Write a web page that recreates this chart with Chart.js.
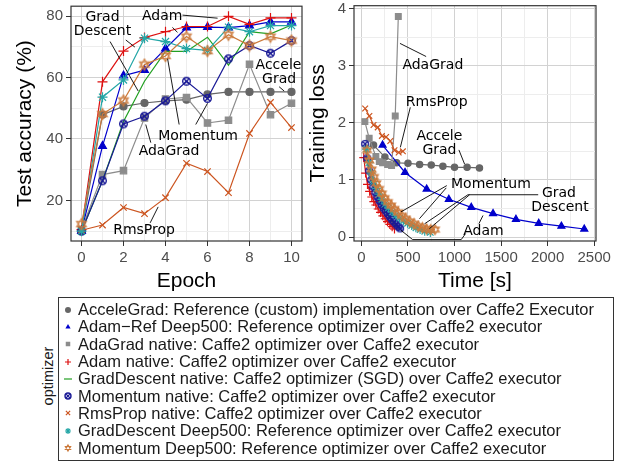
<!DOCTYPE html>
<html>
<head>
<meta charset="utf-8">
<script src="https://cdn.jsdelivr.net/npm/chart.js@4.4.0/dist/chart.umd.min.js"></script>
<style>
    body { margin: 0; background: #fff; }
    #page { position: relative; width: 624px; height: 462px; overflow: hidden; font-family: "Liberation Sans", Arial, sans-serif; }
    #accChart { position: absolute; left: 0; top: 0; }
    #lossChart { position: absolute; left: 300px; top: 0; }
    #legendTitle { position: absolute; left: 48px; top: 376px; transform: translate(-50%, -50%) rotate(-90deg); font-size: 14.5px; color: #1a1a1a; white-space: nowrap; }
    #legend { position: absolute; left: 58px; top: 297px; width: 556px; height: 164px; box-sizing: border-box; border: 1px solid #333; padding-top: 3px; }
    .item { height: 17.3px; font-size: 16.5px; color: #1a1a1a; white-space: nowrap; display: flex; align-items: center; }
    .item canvas { margin-left: 4px; margin-right: 5px; }
</style>
</head>
<body>
<div id="page">
    <canvas id="accChart" width="312" height="296"></canvas>
    <canvas id="lossChart" width="324" height="296"></canvas>
    <div id="legendTitle">optimizer</div>
    <div id="legend"></div>
</div>
<script>
// 축 눈금
const epochs = [0, 1, 2, 3, 4, 5, 6, 7, 8, 9, 10];
const epochTicks = [0, 2, 4, 6, 8, 10];
const epochMinorTicks = [1, 3, 5, 7, 9];
const accTicks = [20, 40, 60, 80];
const accMinorTicks = [10, 30, 50, 70];
const timeTicks = [0, 500, 1000, 1500, 2000, 2500];
const timeMinorTicks = [250, 750, 1250, 1750, 2250];
const lossTicks = [0, 1, 2, 3, 4];
const lossMinorTicks = [0.5, 1.5, 2.5, 3.5];

// 옵티마이저 이름 (범례 순서)
const legendLabels = [
    'AcceleGrad: Reference (custom) implementation over Caffe2 Executor',
    'Adam\u2212Ref Deep500: Reference optimizer over Caffe2 executor',
    'AdaGrad native: Caffe2 optimizer over Caffe2 executor',
    'Adam native: Caffe2 optimizer over Caffe2 executor',
    'GradDescent native: Caffe2 optimizer (SGD) over Caffe2 executor',
    'Momentum native: Caffe2 optimizer over Caffe2 executor',
    'RmsProp native: Caffe2 optimizer over Caffe2 executor',
    'GradDescent Deep500: Reference optimizer over Caffe2 executor',
    'Momentum Deep500: Reference optimizer over Caffe2 executor'
];

// 테스트 정확도 (epoch 0..10)
const accAcceleGrad = [10, 47.9, 50.6, 51.7, 52.4, 52.8, 54.5, 55.3, 55.3, 55.3, 55.3];
const accAdamRef = [10, 37.7, 60.6, 62.4, 69.4, 76.2, 76.4, 76.2, 76.9, 78.1, 78.1];
const accAdaGrad = [10.5, 28.4, 29.7, 46.8, 53.0, 53.5, 45.2, 46.1, 64.3, 47.9, 51.6];
const accAdam = [10.5, 58.6, 68.6, 73.0, 74.9, 76.6, 76.6, 79.9, 77.3, 79.4, 79.4];
const accGradDescent = [10, 26.4, 45.7, 58.8, 68.5, 68.5, 73.1, 64.0, 74.9, 74.2, 77.1];
const accMomentum = [10, 26.4, 44.9, 47.4, 52.4, 58.8, 53.2, 66.1, 70.4, 67.9, 72.0];
const accRmsProp = [10.3, 12.0, 17.7, 15.7, 20.9, 32.1, 29.4, 22.5, 41.8, 51.9, 43.7];
const accGradDescentD5 = [10, 53.6, 59.2, 72.8, 71.7, 69.4, 68.8, 76.4, 74.9, 76.9, 76.9];
const accMomentumD5 = [12.3, 48.1, 52.5, 64.2, 67.0, 73.3, 68.6, 73.9, 70.4, 73.3, 72.0];

// 학습 손실 (시간 [s], 값)
const timeAcceleGrad = [130, 252, 378, 500, 625, 750, 875, 1000, 1135, 1268];
const lossAcceleGrad = [1.61, 1.40, 1.30, 1.29, 1.27, 1.26, 1.24, 1.22, 1.22, 1.21];
const timeAdamRef = [227, 468, 701, 939, 1180, 1414, 1660, 1905, 2148, 2394];
const lossAdamRef = [1.61, 1.13, 0.84, 0.66, 0.52, 0.41, 0.31, 0.24, 0.19, 0.14];
const timeAdaGrad = [37, 83, 155, 191, 227, 281, 324, 363, 396];
const lossAdaGrad = [2.02, 1.73, 1.41, 1.32, 1.30, 1.27, 1.25, 2.12, 3.86];
const timeAdam = [25, 45, 65, 88, 111, 133, 155, 180, 205, 230, 255, 280, 305, 330, 355];
const lossAdam = [1.39, 1.12, 0.92, 0.80, 0.70, 0.62, 0.56, 0.49, 0.43, 0.37, 0.32, 0.27, 0.22, 0.18, 0.14];
const timeGradDescent = [45, 70, 95, 120, 150, 180, 210, 240, 270, 300, 330, 360, 390, 420];
const lossGradDescent = [1.55, 1.25, 1.05, 0.90, 0.76, 0.65, 0.56, 0.48, 0.41, 0.34, 0.28, 0.22, 0.17, 0.12];
const timeMomentum = [40, 62, 83, 105, 128, 150, 172, 195, 218, 240, 262, 285, 308, 330, 352, 375, 398, 415];
const lossMomentum = [1.63, 1.38, 1.16, 1.00, 0.88, 0.78, 0.70, 0.63, 0.56, 0.50, 0.45, 0.40, 0.35, 0.30, 0.26, 0.22, 0.18, 0.15];
const timeRmsProp = [40, 85, 130, 175, 220, 265, 310, 355, 400, 445];
const lossRmsProp = [2.25, 2.12, 1.96, 1.92, 1.77, 1.75, 1.68, 1.52, 1.48, 1.50];
const timeGradDescentD5 = [55, 80, 105, 130, 160, 190, 220, 255, 290, 330, 370, 410, 450, 495, 540, 585, 630, 680, 740];
const lossGradDescentD5 = [1.54, 1.30, 1.12, 0.97, 0.85, 0.75, 0.66, 0.58, 0.51, 0.44, 0.38, 0.33, 0.28, 0.24, 0.20, 0.16, 0.13, 0.10, 0.08];
const timeMomentumD5 = [60, 85, 110, 135, 160, 190, 220, 250, 285, 320, 355, 395, 435, 475, 520, 565, 610, 655, 700, 745, 790];
const lossMomentumD5 = [1.52, 1.34, 1.18, 1.05, 0.94, 0.84, 0.76, 0.68, 0.61, 0.55, 0.49, 0.43, 0.37, 0.32, 0.27, 0.23, 0.19, 0.16, 0.14, 0.13, 0.13];

// 주석 (데이터 좌표)
const accNoteTexts = [
    ['Grad', 1.0, 79.5], ['Descent', 1.0, 74.9], ['Adam', 3.84, 79.9],
    ['Accele', 9.38, 64.0], ['Grad', 9.41, 59.5], ['Momentum', 5.55, 40.9],
    ['AdaGrad', 4.17, 35.9], ['RmsProp', 2.98, 10.1]
];
const accNoteLines = [
    [1.36, 71.7, 2.70, 55.6], [2.11, 72.2, 2.54, 69.9], [4.81, 80.3, 6.48, 79.3],
    [4.33, 76.3, 4.57, 74.7], [9.41, 57.0, 9.65, 55.6], [4.65, 44.7, 4.10, 66.1],
    [5.44, 44.7, 6.0, 51.6], [3.30, 38.8, 3.06, 44.7], [3.27, 12.7, 3.65, 17.9]
];
const lossNoteTexts = [
    ['AdaGrad', 767, 3.0], ['RmsProp', 808, 2.36], ['Accele', 838, 1.77], ['Grad', 838, 1.525],
    ['Momentum', 1391, 0.93], ['Grad', 2122, 0.765], ['Descent', 2133, 0.52], ['Adam', 1310, 0.104]
];
const lossNoteLines = [
    [695, 3.16, 414, 3.39], [525, 2.27, 418, 1.57], [1047, 1.525, 1108, 1.277],
    [917, 0.90, 425, 0.44], [911, 0.86, 623, 0.32],
    [1899, 0.74, 1144, 0.74, 677, 0.23], [1162, 0.74, 730, 0.146],
    [1262, 0.233, 1306, 0.377], [1119, 0.06, 1072, -0.045, 550, -0.045, 425, 0.117]
];

const FONT = '"Liberation Sans", Arial, sans-serif';
const colors = ['#666666', '#0000cc', '#8c8c8c', '#dd1111', '#22a022', '#1a1a96', '#cc5520', '#23a6a6', '#cc7a3c'];
const shapes = ['circle', 'triangle', 'rect', 'cross', 'line', 'circleCross', 'crossRot', 'star', 'david'];

// 마커 그리기
function drawMarker(ctx, kind, x, y, r, color) {
    ctx.save();
    ctx.strokeStyle = color;
    ctx.fillStyle = color;
    ctx.lineWidth = 1.2;
    ctx.beginPath();
    if (kind === 'circle') {
        ctx.arc(x, y, r, 0, Math.PI * 2);
        ctx.fill();
    } else if (kind === 'triangle') {
        ctx.moveTo(x, y - r);
        ctx.lineTo(x + r * 0.87, y + r * 0.5);
        ctx.lineTo(x - r * 0.87, y + r * 0.5);
        ctx.closePath();
        ctx.fill();
    } else if (kind === 'rect') {
        const s = r * 0.75;
        ctx.fillRect(x - s, y - s, s * 2, s * 2);
    } else if (kind === 'line') {
        ctx.moveTo(x - r - 1, y);
        ctx.lineTo(x + r + 1, y);
        ctx.stroke();
    } else if (kind === 'circleCross') {
        ctx.lineWidth = 1.4;
        ctx.arc(x, y, r, 0, Math.PI * 2);
        const d = r * 0.71;
        ctx.moveTo(x - d, y - d); ctx.lineTo(x + d, y + d);
        ctx.moveTo(x + d, y - d); ctx.lineTo(x - d, y + d);
        ctx.stroke();
    } else if (kind === 'david') {
        ctx.moveTo(x, y - r); ctx.lineTo(x + r * 0.87, y + r * 0.5); ctx.lineTo(x - r * 0.87, y + r * 0.5); ctx.closePath();
        ctx.moveTo(x, y + r); ctx.lineTo(x + r * 0.87, y - r * 0.5); ctx.lineTo(x - r * 0.87, y - r * 0.5); ctx.closePath();
        ctx.stroke();
    } else {
        const d = r * 0.71;
        if (kind === 'cross' || kind === 'star') {
            ctx.moveTo(x - r, y); ctx.lineTo(x + r, y);
            ctx.moveTo(x, y - r); ctx.lineTo(x, y + r);
        }
        if (kind === 'crossRot' || kind === 'star') {
            ctx.moveTo(x - d, y - d); ctx.lineTo(x + d, y + d);
            ctx.moveTo(x + d, y - d); ctx.lineTo(x - d, y + d);
        }
        ctx.stroke();
    }
    ctx.restore();
}

function markerImage(kind, r, color) {
    const c = document.createElement('canvas');
    const size = Math.ceil(r * 2 + 3);
    c.width = size;
    c.height = size;
    drawMarker(c.getContext('2d'), kind, size / 2, size / 2, r, color);
    return c;
}

function buildDatasets(xsList, ysList, scale) {
    return ysList.map((ys, i) => {
        const xs = xsList[i];
        const kind = shapes[i];
        let style = kind;
        let radius = 4.5 * scale;
        if (kind === 'circle') radius = 3.5 * scale;
        if (kind === 'cross' || kind === 'star') radius = 5 * scale;
        if (kind === 'circleCross') style = markerImage(kind, 3.8 * scale, colors[i]);
        if (kind === 'david') style = markerImage(kind, 5.5 * scale, colors[i]);
        return {
            label: legendLabels[i],
            data: ys.map((v, j) => ({ x: xs[j], y: v })),
            borderColor: colors[i],
            backgroundColor: colors[i],
            borderWidth: 1.2,
            pointStyle: style,
            pointRadius: kind === 'line' ? 0 : radius,
            pointBorderWidth: 1.2,
            pointBackgroundColor: colors[i],
            pointBorderColor: colors[i],
            tension: 0,
            order: ysList.length - i
        };
    });
}

function makeScale(min, max, major, minor, title, axisSize, titlePad) {
    const all = major.concat(minor).sort((a, b) => a - b);
    const isMajor = v => major.includes(v);
    return {
        type: 'linear',
        min: min,
        max: max,
        afterBuildTicks: s => { s.ticks = all.map(v => ({ value: v })); },
        afterFit: s => {
            if (s.isHorizontal()) s.height = axisSize; else s.width = axisSize;
            s.paddingTop = 0; s.paddingBottom = 0; s.paddingLeft = 0; s.paddingRight = 0;
        },
        ticks: {
            autoSkip: false,
            maxRotation: 0,
            color: '#4d4d4d',
            padding: 3,
            font: { family: FONT, size: 15 },
            callback: v => isMajor(v) ? String(v) : ''
        },
        grid: {
            color: c => isMajor(c.tick.value) ? '#d2d2d2' : '#ededed',
            tickLength: 5,
            tickColor: c => isMajor(c.tick.value) ? '#333' : 'rgba(0,0,0,0)'
        },
        border: { display: false },
        title: {
            display: true,
            text: title,
            color: '#000',
            font: { family: FONT, size: 21 },
            padding: titlePad
        }
    };
}

// 패널 테두리
const panelBorder = {
    id: 'panelBorder',
    afterDraw(chart) {
        const { ctx, chartArea: a } = chart;
        ctx.save();
        ctx.strokeStyle = '#333';
        ctx.lineWidth = 1.2;
        ctx.strokeRect(a.left, a.top, a.right - a.left, a.bottom - a.top);
        ctx.restore();
    }
};

// 라벨과 지시선
const notes = {
    id: 'notes',
    afterDatasetsDraw(chart, args, opts) {
        const { ctx, scales: { x, y } } = chart;
        ctx.save();
        ctx.strokeStyle = '#000';
        ctx.lineWidth = 0.9;
        (opts.lines || []).forEach(pts => {
            ctx.beginPath();
            for (let i = 0; i < pts.length; i += 2) {
                const px = x.getPixelForValue(pts[i]);
                const py = y.getPixelForValue(pts[i + 1]);
                if (i === 0) ctx.moveTo(px, py); else ctx.lineTo(px, py);
            }
            ctx.stroke();
        });
        ctx.font = '14px "DejaVu Sans", sans-serif';
        ctx.fillStyle = '#000';
        ctx.textAlign = 'center';
        ctx.textBaseline = 'middle';
        (opts.texts || []).forEach(t => {
            ctx.fillText(t[0], x.getPixelForValue(t[1]), y.getPixelForValue(t[2]));
        });
        ctx.restore();
    }
};

const accSeries = [accAcceleGrad, accAdamRef, accAdaGrad, accAdam, accGradDescent, accMomentum, accRmsProp, accGradDescentD5, accMomentumD5];
const timeSeries = [timeAcceleGrad, timeAdamRef, timeAdaGrad, timeAdam, timeGradDescent, timeMomentum, timeRmsProp, timeGradDescentD5, timeMomentumD5];
const lossSeries = [lossAcceleGrad, lossAdamRef, lossAdaGrad, lossAdam, lossGradDescent, lossMomentum, lossRmsProp, lossGradDescentD5, lossMomentumD5];

new Chart(document.getElementById('accChart'), {
    type: 'line',
    data: { datasets: buildDatasets(accSeries.map(() => epochs), accSeries, 1) },
    options: {
        responsive: false,
        animation: false,
        layout: { padding: { top: 4, right: 10, left: 0, bottom: 0 } },
        plugins: {
            legend: { display: false },
            tooltip: { enabled: false },
            notes: { texts: accNoteTexts, lines: accNoteLines }
        },
        scales: {
            x: makeScale(-0.5, 10.5, epochTicks, epochMinorTicks, 'Epoch', 55, { top: 0, bottom: 1.7 }),
            y: makeScale(6.8, 83.2, accTicks, accMinorTicks, 'Test accuracy (%)', 71, { top: 12.4, bottom: 0 })
        }
    },
    plugins: [panelBorder, notes]
});

new Chart(document.getElementById('lossChart'), {
    type: 'line',
    data: { datasets: buildDatasets(timeSeries, lossSeries, 0.9) },
    options: {
        responsive: false,
        animation: false,
        layout: { padding: { top: 4, right: 28, left: 0, bottom: 0 } },
        plugins: {
            legend: { display: false },
            tooltip: { enabled: false },
            notes: { texts: lossNoteTexts, lines: lossNoteLines }
        },
        scales: {
            x: makeScale(-80, 2520, timeTicks, timeMinorTicks, 'Time [s]', 55, { top: 0, bottom: 1.7 }),
            y: makeScale(-0.07, 4.05, lossTicks, lossMinorTicks, 'Training loss', 54, { top: 5.4, bottom: 0 })
        }
    },
    plugins: [panelBorder, notes]
});

// 범례
const legend = document.getElementById('legend');
legendLabels.forEach((label, i) => {
    const row = document.createElement('div');
    row.className = 'item';
    const key = document.createElement('canvas');
    key.width = 10;
    key.height = 10;
    drawMarker(key.getContext('2d'), shapes[i], 5, 5, 3, colors[i]);
    row.appendChild(key);
    row.appendChild(document.createTextNode(label));
    legend.appendChild(row);
});
</script>
</body>
</html>
